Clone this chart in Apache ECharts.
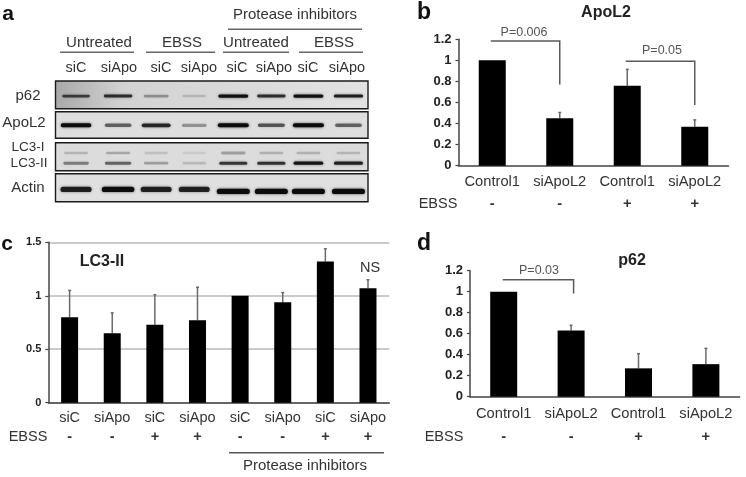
<!DOCTYPE html>
<html><head><meta charset="utf-8">
<style>html,body{margin:0;padding:0;background:#fff}#c{width:746px;height:477px;filter:blur(0.35px)}</style>
<script src="https://cdn.jsdelivr.net/npm/echarts@6/dist/echarts.min.js"></script>
</head><body><div id="c"></div>
<script>
// ---------- data ----------
const bCategories = ['Control1','siApoL2','Control1','siApoL2'];
const bEbss = ['-','-','+','+'];
const bValues = [1,0.45,0.76,0.37];
const bErrTops = [null,0.505,0.915,0.435];
const bBrackets = [[0,1,1.184,0.772],[2,3,0.991,0.576]];

const cCategories = ['siC','siApo','siC','siApo','siC','siApo','siC','siApo'];
const cEbss = ['-','-','+','+','-','-','+','+'];
const cValues = [0.8,0.65,0.73,0.77,1,0.94,1.32,1.07];
const cErrTops = [1.05,0.84,1.01,1.08,null,1.03,1.44,1.15];

const dCategories = ['Control1','siApoL2','Control1','siApoL2'];
const dEbss = ['-','-','+','+'];
const dValues = [1,0.63,0.27,0.31];
const dErrTops = [null,0.68,0.41,0.46];
const dBrackets = [[0,1,1.114,0.984]];

const blotLanes = ['siC','siApo','siC','siApo','siC','siApo','siC','siApo'];
const blotRows = ['p62','ApoL2','LC3-I','LC3-II','Actin'];
const p62Bands = [0.62,0.72,0.3,0.14,0.88,0.72,0.88,0.8];
const apol2Bands = [0.95,0.5,0.75,0.3,1,0.55,1,0.5];
const lc3iBands = [0.16,0.22,0.12,0.08,0.25,0.18,0.18,0.16];
const lc3iiBands = [0.38,0.48,0.25,0.14,0.68,0.7,0.85,0.78];
const actinBands = [0.8,0.95,0.78,0.78,1,1,1,1];

// ---------- style / layout ----------
const FONT = '"Liberation Sans", Arial, sans-serif';
const TXT = '#333';
const AXC = '#444';
const laneNudge = [1,4,3,2,2,1,-1,0];
const rowNudge = [3,8,11.5,-2.5,0];
const rowBandH = [3.2,4,3.4,3.4,5.4];
const rowBandW = [31,31,31,31,33];

function errorSeries(xi, yi, cats, vals, tops, cap){
  return {type:'custom',xAxisIndex:xi,yAxisIndex:yi,z:1,silent:true,clip:false,
    data:cats.map((c,i)=>[i,vals[i],tops[i]==null?vals[i]:tops[i]]),
    encode:{x:0,y:[1,2]},
    renderItem(p,api){
      const i=api.value(0),v=api.value(1),t=api.value(2);
      if(t===v) return;
      const a=api.coord([i,v]),b=api.coord([i,t]);
      const st={stroke:'#6a6a6a',lineWidth:1.5};
      return {type:'group',children:[
        {type:'line',shape:{x1:a[0],y1:a[1],x2:b[0],y2:b[1]},style:st},
        {type:'line',shape:{x1:b[0]-cap,y1:b[1],x2:b[0]+cap,y2:b[1]},style:st}]};
    }};
}
function bracketSeries(xi, yi, br, nudge){
  return {type:'custom',xAxisIndex:xi,yAxisIndex:yi,z:3,silent:true,clip:false,
    data:br,encode:{x:[0,1],y:[2,3]},
    renderItem(p,api){
      const n=nudge[p.dataIndex]||[0,0];
      const a=api.coord([api.value(0),api.value(2)]),b=api.coord([api.value(1),api.value(2)]),c=api.coord([api.value(1),api.value(3)]);
      return {type:'polyline',shape:{points:[[a[0]+n[0],a[1]],[b[0]+n[1],b[1]],[c[0]+n[1],c[1]]]},
        style:{fill:'none',stroke:'#5a5a5a',lineWidth:1.5}};
    }};
}
function barSeries(xi, yi, vals, w){
  return {type:'bar',xAxisIndex:xi,yAxisIndex:yi,data:vals,barWidth:w,z:2,silent:true,
    itemStyle:{color:'#000'}};
}
function xAx(grid, cats, signs, lh, margin, size){
  return {type:'category',gridIndex:grid,data:cats.map((c,i)=>i+''),
    axisTick:{show:false},axisLine:{lineStyle:{color:AXC,width:1.5}},splitLine:{show:false},
    axisLabel:{interval:0,margin,color:TXT,
      formatter:(v)=>'{n|'+cats[+v]+'}\n{s|'+signs[+v]+'}',
      rich:{n:{fontFamily:FONT,fontSize:size,color:TXT,lineHeight:lh},
            s:{fontFamily:FONT,fontSize:size,fontWeight:'bold',color:TXT,lineHeight:lh}}}};
}
function yAx(grid, max, interval, size, grids){
  return {type:'value',gridIndex:grid,min:0,max,interval,
    axisLine:{show:true,lineStyle:{color:AXC,width:1.5}},
    axisTick:{show:true,length:3,lineStyle:{color:AXC,width:1.2}},
    axisLabel:{margin:7,color:'#222',fontFamily:FONT,fontWeight:'bold',fontSize:size},
    splitLine:{show:!!grids,lineStyle:{color:'#b8b8b8',width:1.5}}};
}
function txt(s,x,y,size,opt){
  opt=opt||{};
  return {type:'text',x,y,z:10,silent:true,style:{text:s,fontFamily:FONT,fontSize:size,
    fontWeight:opt.bold?'bold':'normal',fill:opt.color||TXT,
    align:opt.align||'center',verticalAlign:'middle'}};
}
function ln(x1,y1,x2,y2,w,color){
  return {type:'line',z:10,silent:true,shape:{x1,y1,x2,y2},style:{stroke:color||'#666',lineWidth:w||1.5}};
}
function frame(y,h,fill){
  return {type:'rect',z:0,silent:true,shape:{x:55.5,y,width:312.5,height:h},
    style:{fill:fill,stroke:'#1a1a1a',lineWidth:1.4}};
}

const bandRows=[p62Bands,apol2Bands,lc3iBands,lc3iiBands,actinBands];
const bandData=[];
bandRows.forEach((r,ri)=>r.forEach((v,li)=>bandData.push([li,ri,v])));

const graphics=[
  // blot frames
  frame(81,27.7,{type:'linear',x:0,y:0,x2:1,y2:0.35,colorStops:[{offset:0,color:'#a8a8a8'},{offset:0.22,color:'#d2d2d2'},{offset:1,color:'#e2e2e2'}]}),
  frame(111.7,26.6,'#dedede'),
  frame(142.7,28,'#dcdcdc'),
  frame(173.7,28,'#e0e0e0'),
  // panel letters
  txt('a',8,14,21,{bold:true,color:'#111'}),
  txt('b',424,13,23,{bold:true,color:'#111'}),
  txt('c',7,244,21,{bold:true,color:'#111'}),
  txt('d',424,244,23,{bold:true,color:'#111'}),
  // panel a header
  txt('Protease inhibitors',295,15,15),
  ln(228,29.3,362,29.3),
  txt('Untreated',99,43,15),txt('EBSS',182,43,15),txt('Untreated',256,43,15),txt('EBSS',334,43,15),
  ln(60,52.3,134,52.3),ln(146,52.3,215,52.3),ln(223,52.3,289,52.3),ln(299,52.3,363,52.3),
  ...blotLanes.map((s,i)=>txt(s,[76,119,161,199,237,274,308,347][i],68,14.5)),
  txt('p62',28,96,15),txt('ApoL2',24,123,15),txt('LC3-I',28,147,13.5),txt('LC3-II',29,163,13.5),txt('Actin',28,188,15),
  // panel b
  txt('ApoL2',606,13,16,{bold:true,color:'#222'}),
  txt('P=0.006',524,33,12.5,{color:'#555'}),
  txt('P=0.05',662,51,12.5,{color:'#555'}),
  txt('EBSS',438,204,14.5),
  // panel c
  txt('LC3-II',102,262,16,{bold:true,color:'#222'}),
  txt('NS',370,268,14.5),
  txt('EBSS',28,437,14.5),
  ln(229,452.7,384,452.7,1.5,'#555'),
  txt('Protease inhibitors',305,466,15),
  // panel d
  txt('p62',632,261,16,{bold:true,color:'#222'}),
  txt('P=0.03',539,271,12.5,{color:'#555'}),
  txt('EBSS',444,437,14.5),
];

const option={
  backgroundColor:'#fff',animation:false,
  grid:[
    {left:458.5,top:39.3,width:270,height:126.4},
    {left:48.3,top:242.3,width:341,height:160.4},
    {left:470,top:270.7,width:269.6,height:126},
    {left:55.5,top:81,width:312.5,height:121}
  ],
  xAxis:[
    xAx(0,bCategories,bEbss,22,5,14.7),
    xAx(1,cCategories,cEbss,19,6,14.5),
    xAx(2,dCategories,dEbss,23,6,14.7),
    {type:'category',gridIndex:3,data:blotLanes.map((s,i)=>i+''),show:false}
  ],
  yAxis:[
    yAx(0,1.2,0.2,13),
    yAx(1,1.5,0.5,11,true),
    yAx(2,1.2,0.2,13),
    {type:'category',gridIndex:3,data:blotRows,inverse:true,show:false}
  ],
  graphic:graphics,
  series:[
    barSeries(0,0,bValues,27),
    errorSeries(0,0,bCategories,bValues,bErrTops,1.5),
    bracketSeries(0,0,bBrackets,[[-1.5,0],[-1.5,0]]),
    barSeries(1,1,cValues,17),
    errorSeries(1,1,cCategories,cValues,cErrTops,1.5),
    barSeries(2,2,dValues,27),
    errorSeries(2,2,dCategories,dValues,dErrTops,1.5),
    bracketSeries(2,2,dBrackets,[[-1,2.5]]),
    {type:'custom',xAxisIndex:3,yAxisIndex:3,z:2,silent:true,clip:false,
      data:bandData,encode:{x:0,y:1},
      renderItem(p,api){
        const li=api.value(0),ri=api.value(1),v=api.value(2);
        const c=api.coord([li,ri]);
        const tilt=ri===4?(li>=4?1.5:-0.5):0;
        const w=rowBandW[ri]*(0.72+0.28*v);
        const h=rowBandH[ri]*(0.75+0.25*v);
        const col='rgba(12,12,12,'+Math.min(1,v*1.1)+')';
        return {type:'rect',shape:{x:c[0]+laneNudge[li]-w/2,y:c[1]+rowNudge[ri]+tilt-h/2,width:w,height:h,r:h/2},
          style:{fill:col,shadowBlur:3,shadowColor:'rgba(20,20,20,'+(v*0.7)+')'}};
      }}
  ]
};
echarts.init(document.getElementById('c'),null,{renderer:'canvas'}).setOption(option);
</script></body></html>
